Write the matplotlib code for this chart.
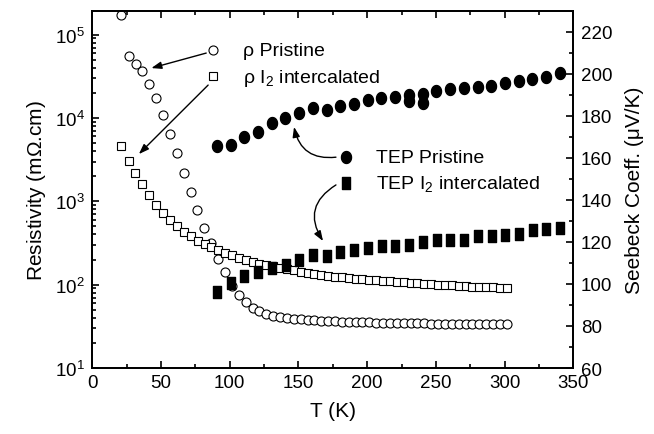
import numpy as np
import matplotlib
matplotlib.use('Agg')
import matplotlib.pyplot as plt
from matplotlib.ticker import MultipleLocator, LogLocator
from matplotlib.path import Path

plt.rcParams['font.family'] = ['Liberation Sans', 'DejaVu Sans']
plt.rcParams['mathtext.fontset'] = 'custom'
plt.rcParams['mathtext.rm'] = 'Liberation Sans'

# resistivity, pristine (open circles)
T_rho_p = [21.0, 26.7, 31.8, 36.4, 41.5, 46.6, 51.7, 56.5, 61.6, 66.9, 71.8, 76.4,
           81.5, 86.4, 91.7, 96.8, 101.7, 106.7, 111.6, 116.7, 121.5, 126.6, 131.7,
           136.6, 141.6, 146.6, 151.6, 156.6, 161.6, 166.6, 171.6, 176.6, 181.6,
           186.6, 191.6, 196.6, 201.6, 206.6, 211.6, 216.6, 221.6, 226.6, 231.6,
           236.6, 241.6, 246.6, 251.6, 256.6, 261.6, 266.6, 271.6, 276.6, 281.6,
           286.6, 291.6, 296.6, 301.6]
rho_p = [1.72e5, 5.58e4, 4.48e4, 3.63e4, 2.55e4, 1.73e4, 1.08e4, 6410, 3760, 2170,
         1300, 792, 474, 316, 203, 141, 97, 75.7, 62.4, 52.4, 47.9, 44.4, 41.7,
         40.5, 39.6, 38.9, 38.3, 37.8, 37.4, 37.0, 36.7, 36.4, 36.1, 35.9, 35.7,
         35.5, 35.3, 35.1, 35.0, 34.8, 34.7, 34.6, 34.5, 34.4, 34.3, 34.2, 34.1,
         34.0, 34.0, 33.9, 33.8, 33.8, 33.7, 33.7, 33.6, 33.6, 33.5]

# resistivity, I2 intercalated (open squares)
T_rho_i = [21.1, 26.7, 31.3, 36.4, 41.5, 46.6, 51.7, 56.8, 61.6, 66.7, 71.8, 76.7,
           81.8, 86.6, 91.7, 96.8, 101.7, 106.7, 111.6, 116.7, 121.5, 126.6, 131.7,
           136.6, 141.6, 146.6, 151.6, 156.6, 161.6, 166.6, 171.6, 176.6, 181.6,
           186.6, 191.6, 196.6, 201.6, 206.6, 211.6, 216.6, 221.6, 226.6, 231.6,
           236.6, 241.6, 246.6, 251.6, 256.6, 261.6, 266.6, 271.6, 276.6, 281.6,
           286.6, 291.6, 296.6, 301.6]
rho_i = [4600, 3050, 2190, 1600, 1190, 903, 724, 592, 501, 432, 380, 334, 305, 281,
         258, 240, 225, 211, 199, 188, 178, 172, 166, 160, 154, 149, 143, 138, 134,
         131, 128, 125, 122, 120, 118, 116, 115, 113, 111, 110, 108, 107, 105, 104,
         103, 101, 100, 99, 98, 97, 96, 95, 94.5, 94, 93, 92, 91]

# Seebeck, pristine (filled circles)
T_tep_p = [91.0, 100.7, 110.6, 120.4, 130.8, 140.4, 150.4, 160.8, 170.6, 180.5,
           190.4, 200.4, 210.3, 220.3, 230.4, 230.4, 240.4, 240.4, 250.3, 260.3,
           270.5, 280.4, 290.3, 300.5, 310.5, 320.2, 330.1, 340.3]
S_tep_p = [165.8, 166.2, 169.8, 172.4, 176.6, 178.9, 181.2, 183.7, 182.9, 184.8,
           185.7, 187.6, 188.3, 189.1, 190.0, 187.2, 190.4, 186.1, 191.6, 192.6,
           193.2, 193.8, 194.3, 195.4, 196.5, 197.5, 198.6, 200.3]

# Seebeck, I2 intercalated (filled squares)
T_tep_i = [90.5, 100.7, 110.6, 120.6, 130.5, 140.7, 150.6, 160.6, 170.6, 180.5,
           190.4, 200.4, 210.6, 220.5, 230.4, 240.6, 250.6, 260.5, 270.5, 280.4,
           290.6, 300.5, 310.3, 320.5, 330.1, 340.3]
S_tep_i = [96.3, 100.6, 103.6, 105.7, 107.6, 109.0, 111.5, 113.6, 113.3, 115.3,
           116.1, 117.3, 118.0, 118.0, 118.7, 119.9, 120.9, 120.8, 120.9, 122.8,
           122.8, 123.3, 123.7, 125.8, 126.3, 126.7]

# slightly tall markers, as in the scanned figure
rect = Path([(-0.36, -0.5), (0.36, -0.5), (0.36, 0.5), (-0.36, 0.5), (-0.36, -0.5)],
            [Path.MOVETO, Path.LINETO, Path.LINETO, Path.LINETO, Path.CLOSEPOLY])
th = np.linspace(0, 2 * np.pi, 40)
ell = Path(np.column_stack([0.42 * np.cos(th), 0.5 * np.sin(th)]), closed=True)

fig = plt.figure(figsize=(6.54, 4.35), dpi=100)
ax = fig.add_axes([0.1411, 0.1517, 0.7355, 0.82])
ax2 = ax.twinx()

ax.plot(T_rho_p, rho_p, 'o', ms=6.5, mfc='white', mec='black', mew=0.8, clip_on=False)
ax.plot(T_rho_i, rho_i, 's', ms=5.4, mfc='white', mec='black', mew=0.8)
ax2.plot(T_tep_p, S_tep_p, ls='none', marker=ell, ms=8.6, mfc='black', mec='black')
ax2.plot(T_tep_i, S_tep_i, ls='none', marker=rect, ms=8.4, mfc='black', mec='black')

ax.set_yscale('log')
ax.set_xlim(0, 350)
ax.set_ylim(10, 10 ** 5.28)
ax2.set_ylim(60, 229.7)
ax.xaxis.set_major_locator(MultipleLocator(50))
ax.xaxis.set_minor_locator(MultipleLocator(25))
ax.yaxis.set_major_locator(LogLocator(base=10))
ax.yaxis.set_minor_locator(LogLocator(base=10, subs=np.arange(2, 10)))
ax2.yaxis.set_major_locator(MultipleLocator(20))
ax2.yaxis.set_minor_locator(MultipleLocator(10))

ax.tick_params(which='both', direction='in', top=True, right=False, labelsize=13.5, width=1.2)
ax.tick_params(which='major', length=5)
ax.tick_params(which='minor', length=3)
ax.tick_params(axis='x', pad=4.5)
ax.tick_params(axis='y', pad=5.5)
ax2.tick_params(which='both', direction='in', labelsize=13.5, width=1.2, pad=5.5)
ax2.tick_params(which='major', length=5)
ax2.tick_params(which='minor', length=3)
for a in (ax, ax2):
    for s in a.spines.values():
        s.set_linewidth(1.3)

ax.set_xlabel('T (K)', fontsize=15, labelpad=7)
ax.set_ylabel('Resistivity (m$\\Omega$.cm)', fontsize=15, labelpad=5)
ax2.set_ylabel('Seebeck Coeff. (\u03bcV/K)', fontsize=15, labelpad=9)

# rho legend
ax.plot([87.8], [6.5e4], 'o', ms=6.5, mfc='white', mec='black', mew=0.8)
ax.plot([87.5], [3.2e4], 's', ms=5.4, mfc='white', mec='black', mew=0.8)
ax.text(109.5, 6.5e4, '\u03c1 Pristine', fontsize=14, va='center', ha='left')
ax.text(109.5, 3.1e4, '\u03c1 I$_2$ intercalated', fontsize=14, va='center', ha='left')
arr = dict(arrowstyle='-|>,head_length=0.5,head_width=0.18', color='black', lw=1,
           shrinkA=0, shrinkB=0, mutation_scale=12)
ax.annotate('', xy=(43.0, 10 ** 4.599), xytext=(82.9, 10 ** 4.779), arrowprops=arr)
ax.annotate('', xy=(33.9, 10 ** 3.567), xytext=(84.3, 10 ** 4.395), arrowprops=arr)

# TEP legend
ax2.plot([184.4], [160.2], ls='none', marker=ell, ms=8.6, mfc='black', mec='black')
ax2.plot([184.4], [148.0], ls='none', marker=rect, ms=8.4, mfc='black', mec='black')
ax2.text(206.5, 160.2, 'TEP Pristine', fontsize=14, va='center', ha='left')
ax2.text(206.5, 147.5, 'TEP I$_2$ intercalated', fontsize=14, va='center', ha='left')
ax2.annotate('', xy=(146.8, 174.7), xytext=(177.3, 160.3),
             arrowprops=dict(arr, connectionstyle='arc3,rad=-0.45'))
ax2.annotate('', xy=(167.9, 120.4), xytext=(177.3, 147.1),
             arrowprops=dict(arr, connectionstyle='arc3,rad=0.5'))

fig.savefig('out.png', dpi=100)
